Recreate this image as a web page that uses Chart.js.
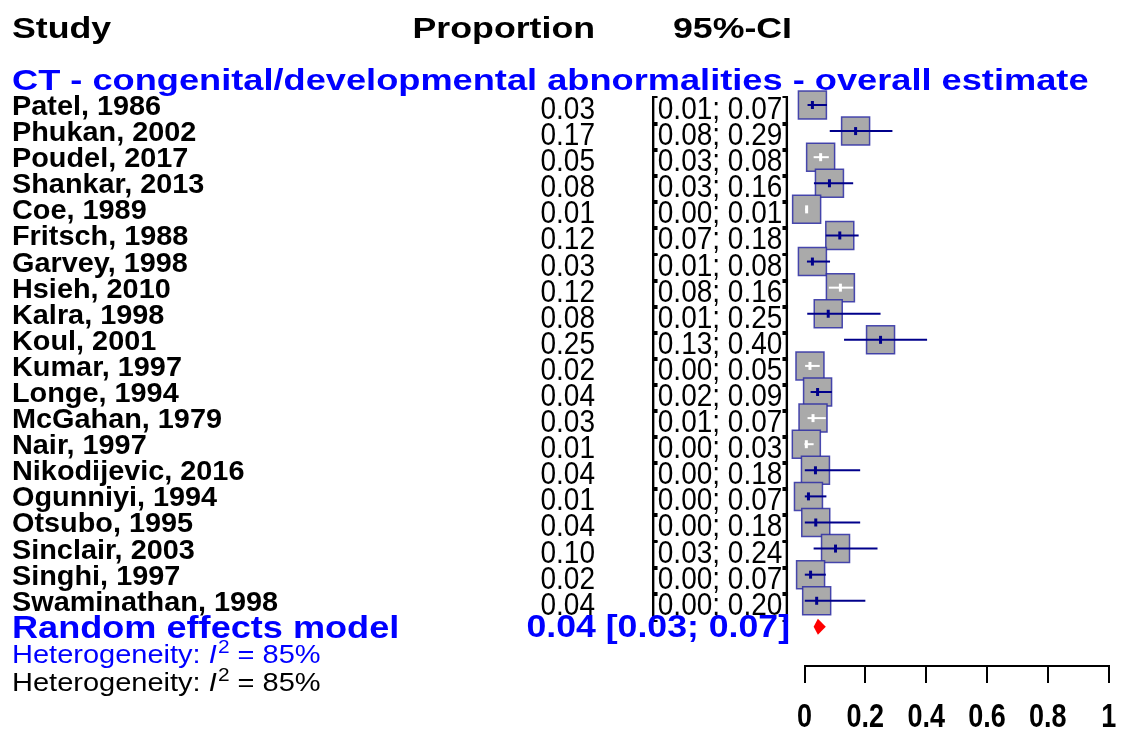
<!DOCTYPE html>
<html>
<head>
<meta charset="utf-8">
<script src="https://cdn.jsdelivr.net/npm/chart.js@4/dist/chart.umd.min.js"></script>
<style>
  html, body { margin: 0; padding: 0; background: #ffffff; }
  #c { display: block; }
</style>
</head>
<body>
<canvas id="c" width="1130" height="731" style="width:1130px;height:731px"></canvas>
<script>
// ---------------- data ----------------
const studies = ["Patel, 1986", "Phukan, 2002", "Poudel, 2017", "Shankar, 2013", "Coe, 1989",
  "Fritsch, 1988", "Garvey, 1998", "Hsieh, 2010", "Kalra, 1998", "Koul, 2001",
  "Kumar, 1997", "Longe, 1994", "McGahan, 1979", "Nair, 1997", "Nikodijevic, 2016",
  "Ogunniyi, 1994", "Otsubo, 1995", "Sinclair, 2003", "Singhi, 1997", "Swaminathan, 1998"];
const proportion = [0.026, 0.168, 0.053, 0.082, 0.007, 0.116, 0.026, 0.118, 0.078, 0.250,
  0.018, 0.043, 0.028, 0.006, 0.036, 0.013, 0.037, 0.102, 0.020, 0.040];
const ciLower = [0.010, 0.083, 0.030, 0.031, 0.002, 0.070, 0.008, 0.080, 0.009, 0.130,
  0.002, 0.020, 0.010, 0.000, 0.001, 0.001, 0.001, 0.030, 0.001, 0.001];
const ciUpper = [0.074, 0.289, 0.080, 0.160, 0.010, 0.178, 0.084, 0.160, 0.250, 0.403,
  0.050, 0.090, 0.070, 0.030, 0.183, 0.072, 0.183, 0.240, 0.070, 0.200];
const pooled = [0.044, 0.030, 0.070]; // estimate, lower, upper
const heterogeneityI2 = 85;
const xTicks = [0, 0.2, 0.4, 0.6, 0.8, 1];
const xTickLabels = ["0", "0.2", "0.4", "0.6", "0.8", "1"];

const subgroupTitle = "CT - congenital/developmental abnormalities - overall estimate";
const headers = ["Study", "Proportion", "95%-CI"];
const pooledLabel = "Random effects model";

// ---------------- helpers ----------------
const FAM = '"Liberation Sans", Arial, Helvetica, sans-serif';
function txt(ctx, s, x, y, o) {
  ctx.save();
  ctx.translate(x, y);
  ctx.scale(o.sx || 1, o.sy || 1);
  ctx.font = (o.italic ? 'italic ' : '') + (o.bold ? 'bold ' : '') + o.size + 'px ' + FAM;
  ctx.fillStyle = o.color || '#000';
  ctx.textAlign = o.align || 'left';
  ctx.textBaseline = 'alphabetic';
  ctx.fillText(s, 0, 0);
  ctx.restore();
}
function fmt(v) { return v.toFixed(2); }

function heteroLine(ctx, x, y, color) {
  const size = 25, sx = 1.16;
  ctx.save();
  ctx.translate(x, y);
  ctx.scale(sx, 1);
  ctx.fillStyle = color;
  ctx.textBaseline = 'alphabetic';
  ctx.textAlign = 'left';
  let cx = 0;
  ctx.font = size + 'px ' + FAM;
  const a = 'Heterogeneity: ';
  ctx.fillText(a, cx, 0); cx += ctx.measureText(a).width;
  ctx.font = 'italic ' + size + 'px ' + FAM;
  ctx.fillText('I', cx, 0); cx += ctx.measureText('I').width + 1;
  ctx.font = Math.round(size * 0.72) + 'px ' + FAM;
  ctx.fillText('2', cx, -size * 0.42); cx += ctx.measureText('2').width;
  ctx.font = size + 'px ' + FAM;
  ctx.fillText(' = ' + heterogeneityI2 + '%', cx, 0);
  ctx.restore();
}

const BOX_HALF = 14;

const forestPlugin = {
  id: 'forest',
  afterDraw(chart) {
    const ctx = chart.ctx;
    const xs = chart.scales.x, ys = chart.scales.y;

    // headers
    txt(ctx, headers[0], 12, 38, {size: 30, bold: true, sx: 1.19});
    txt(ctx, headers[1], 595, 38, {size: 30, bold: true, sx: 1.19, align: 'right'});
    txt(ctx, headers[2], 673, 38, {size: 30, bold: true, sx: 1.19});
    // subgroup title
    txt(ctx, subgroupTitle, 12, 90, {size: 30, bold: true, sx: 1.207, color: '#0000ff'});

    // study rows
    studies.forEach((s, i) => {
      const y = ys.getPixelForValue(i);
      txt(ctx, s, 12, y + 10, {size: 28, bold: true, sx: 1.03});
      txt(ctx, fmt(proportion[i]), 595, y + 14, {size: 28, sy: 1.15, align: 'right'});
      txt(ctx, '[' + fmt(ciLower[i]) + '; ' + fmt(ciUpper[i]) + ']', 650, y + 14, {size: 28, sy: 1.15});
    });

    // pooled row
    const yp = ys.getPixelForValue(studies.length);
    txt(ctx, pooledLabel, 12, yp + 11, {size: 31, bold: true, sx: 1.165, color: '#0000ff'});
    txt(ctx, fmt(pooled[0]) + ' [' + fmt(pooled[1]) + '; ' + fmt(pooled[2]) + ']', 790, yp + 10,
        {size: 31, bold: true, sx: 1.15, color: '#0000ff', align: 'right'});

    // heterogeneity
    heteroLine(ctx, 12, 663, '#0000ff');
    heteroLine(ctx, 12, 691, '#000000');

    // CI lines and estimate markers (on top of boxes)
    studies.forEach((s, i) => {
      const y = ys.getPixelForValue(i);
      const x1 = xs.getPixelForValue(ciLower[i]);
      const x2 = xs.getPixelForValue(ciUpper[i]);
      const cx = xs.getPixelForValue(proportion[i]);
      const inside = x1 >= cx - BOX_HALF && x2 <= cx + BOX_HALF;
      ctx.save();
      ctx.strokeStyle = inside ? '#ffffff' : '#00008b';
      ctx.lineWidth = 2;
      ctx.beginPath(); ctx.moveTo(x1, y); ctx.lineTo(x2, y); ctx.stroke();
      ctx.lineWidth = 3;
      ctx.beginPath(); ctx.moveTo(cx, y - 4); ctx.lineTo(cx, y + 4); ctx.stroke();
      ctx.restore();
    });

    // pooled diamond
    const dl = xs.getPixelForValue(pooled[1]);
    const dc = xs.getPixelForValue(pooled[0]);
    const dr = xs.getPixelForValue(pooled[2]);
    ctx.save();
    ctx.fillStyle = '#ff0000';
    ctx.beginPath();
    ctx.moveTo(dl, yp); ctx.lineTo(dc, yp - 8); ctx.lineTo(dr, yp); ctx.lineTo(dc, yp + 8);
    ctx.closePath(); ctx.fill();
    ctx.restore();

    // x tick labels
    xTicks.forEach((v, k) => {
      const x = xs.getPixelForValue(v);
      txt(ctx, xTickLabels[k], x, 727, {size: 27, bold: true, sy: 1.2, align: 'center'});
    });
  }
};

new Chart(document.getElementById('c'), {
  type: 'scatter',
  data: {
    datasets: [{
      data: proportion.map((v, i) => ({x: v, y: i})),
      pointStyle: 'rect',
      pointRadius: BOX_HALF * Math.SQRT2,
      pointHoverRadius: BOX_HALF * Math.SQRT2,
      backgroundColor: '#aaaaaa',
      borderColor: 'rgba(45,45,165,0.85)',
      borderWidth: 1.5,
      clip: false
    }]
  },
  options: {
    responsive: false,
    animation: false,
    devicePixelRatio: 1,
    events: [],
    layout: { padding: { left: 804.5, right: 17, top: 78.9, bottom: 48 } },
    plugins: { legend: { display: false }, tooltip: { enabled: false } },
    scales: {
      x: {
        type: 'linear',
        position: 'bottom',
        min: 0, max: 1,
        afterBuildTicks(scale) { scale.ticks = xTicks.map(v => ({value: v})); },
        ticks: { display: false },
        grid: { drawOnChartArea: false, drawTicks: true, tickLength: 17, color: '#000', lineWidth: 2 },
        border: { display: true, color: '#000', width: 2 }
      },
      y: {
        type: 'linear',
        display: false,
        reverse: true,
        min: -1, max: 21.5
      }
    }
  },
  plugins: [forestPlugin]
});
</script>
</body>
</html>
